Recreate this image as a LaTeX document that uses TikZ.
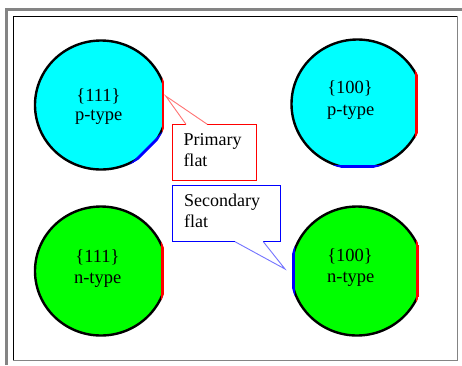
\documentclass[tikz,border=0pt]{standalone}
\usepackage{fontspec}
\setmainfont{Liberation Serif}
\definecolor{wcyan}{RGB}{0,255,255}
\definecolor{wgreen}{RGB}{0,255,0}
\definecolor{framegray}{RGB}{132,132,132}
\begin{document}
\begin{tikzpicture}[x=1pt,y=-1pt,
  rim/.style={black,line width=2.4pt},
  flatred/.style={red,line width=2.7pt},
  flatblue/.style={blue,line width=2.7pt},
  wlabel/.style={inner sep=0pt,anchor=base,font=\fontsize{18.5}{21}\selectfont},
  clabel/.style={inner sep=0pt,anchor=base west,font=\fontsize{18}{21}\selectfont},
  boxedge/.style={line width=1pt},
]
\useasboundingbox (0,0) rectangle (462,365);
\fill[white] (0,0) rectangle (462,365);

% outer and inner frame
\fill[framegray] (5,8) rectangle (462,11);
\fill[framegray] (5,8) rectangle (8,365);
\draw[black,line width=1.3pt] (457.5,16.3) -- (13.3,16.3) -- (13.3,360);
\draw[framegray,line width=1.3pt] (13,360.3) -- (457.8,360.3) -- (457.8,16);

% wafer centres
\coordinate (tl) at (101,105);
\coordinate (tr) at (357.5,104);
\coordinate (bl) at (101,271);
\coordinate (br) at (357,271);

% {111} p-type: primary flat right, secondary flat at 45 degrees
\begin{scope}[shift={(tl)}]
  \begin{scope}
    \clip (-70,-70) -- (62,-70) -- (62,28.1) -- (20.1,70) -- (-70,70) -- cycle;
    \fill[wcyan] (0,0) ellipse [x radius=66pt, y radius=64.5pt];
    \draw[rim] (0,0) ellipse [x radius=66pt, y radius=64.5pt];
  \end{scope}
  \begin{scope}
    \clip (0,0) ellipse [x radius=67.2pt, y radius=65.7pt];
    \draw[flatred] (62,-70) -- (62,70);
    \draw[flatblue] (160.1,-70) -- (20.1,70);
  \end{scope}
\end{scope}

% {100} p-type: primary flat right, secondary flat at the bottom
\begin{scope}[shift={(tr)}]
  \begin{scope}
    \clip (-70,-70) -- (59.2,-70) -- (59.2,62.7) -- (-70,62.7) -- cycle;
    \fill[wcyan] (0,0) ellipse [x radius=66pt, y radius=64.5pt];
    \draw[rim] (0,0) ellipse [x radius=66pt, y radius=64.5pt];
  \end{scope}
  \begin{scope}
    \clip (0,0) ellipse [x radius=67.2pt, y radius=65.7pt];
    \draw[flatred] (59.2,-70) -- (59.2,70);
    \draw[flatblue] (-70,62.7) -- (70,62.7);
  \end{scope}
\end{scope}

% {111} n-type: primary flat only
\begin{scope}[shift={(bl)}]
  \begin{scope}
    \clip (-70,-70) -- (61.7,-70) -- (61.7,70) -- (-70,70) -- cycle;
    \fill[wgreen] (0,0) ellipse [x radius=66pt, y radius=64.5pt];
    \draw[rim] (0,0) ellipse [x radius=66pt, y radius=64.5pt];
  \end{scope}
  \begin{scope}
    \clip (0,0) ellipse [x radius=67.2pt, y radius=65.7pt];
    \draw[flatred] (61.7,-70) -- (61.7,70);
  \end{scope}
\end{scope}

% {100} n-type: primary flat right, secondary flat left
\begin{scope}[shift={(br)}]
  \begin{scope}
    \clip (-63.7,-70) -- (60.3,-70) -- (60.3,70) -- (-63.7,70) -- cycle;
    \fill[wgreen] (0,0) ellipse [x radius=66pt, y radius=64.5pt];
    \draw[rim] (0,0) ellipse [x radius=66pt, y radius=64.5pt];
  \end{scope}
  \begin{scope}
    \clip (0,0) ellipse [x radius=67.2pt, y radius=65.7pt];
    \draw[flatred] (60.3,-70) -- (60.3,70);
    \draw[flatblue] (-63.7,-70) -- (-63.7,70);
  \end{scope}
\end{scope}

% wafer labels
\node[wlabel] (tl-plane) at (98.5,101) {\{111\}};
\node[wlabel] (tl-type)  at (98.7,120.7) {p-type};
\node[wlabel] (tr-plane) at (350,93.3) {\{100\}};
\node[wlabel] (tr-type)  at (350.8,115) {p-type};
\node[wlabel] (bl-plane) at (97.5,262.7) {\{111\}};
\node[wlabel] (bl-type)  at (97.7,283.3) {n-type};
\node[wlabel] (br-plane) at (350,261.7) {\{100\}};
\node[wlabel] (br-type)  at (350.8,282.7) {n-type};

% callout: primary flat
\coordinate (p-nw) at (172.3,124.3);
\coordinate (p-se) at (256.7,180);
\coordinate (p-b1) at (186,124.3);
\coordinate (p-b2) at (207.3,124.3);
\coordinate (p-tip) at (165.7,96);
\fill[white] (p-nw) -- (p-b1) -- (p-tip) -- (p-b2) -- (p-nw -| p-se) -- (p-se) -- (p-nw |- p-se) -- cycle;
\draw[red,boxedge] (p-b1) -- (p-nw) -- (p-nw |- p-se) -- (p-se) -- (p-nw -| p-se) -- (p-b2);
\draw[red!55,line width=0.9pt] (p-b1) -- (p-tip) -- (p-b2);
\node[clabel] (p-line1) at (183.3,145) {Primary};
\node[clabel] (p-line2) at (183.3,166) {flat};

% callout: secondary flat
\coordinate (s-nw) at (172.7,185);
\coordinate (s-se) at (280,241.7);
\coordinate (s-b1) at (235,241.7);
\coordinate (s-b2) at (263.3,241.7);
\coordinate (s-tip) at (285,269);
\fill[white] (s-nw) -- (s-nw -| s-se) -- (s-se) -- (s-b2) -- (s-tip) -- (s-b1) -- (s-nw |- s-se) -- cycle;
\draw[blue,boxedge] (s-b1) -- (s-nw |- s-se) -- (s-nw) -- (s-nw -| s-se) -- (s-se) -- (s-b2);
\draw[blue!55,line width=0.9pt] (s-b1) -- (s-tip) -- (s-b2);
\node[clabel] (s-line1) at (184,206) {Secondary};
\node[clabel] (s-line2) at (184,227.3) {flat};
\end{tikzpicture}
\end{document}
